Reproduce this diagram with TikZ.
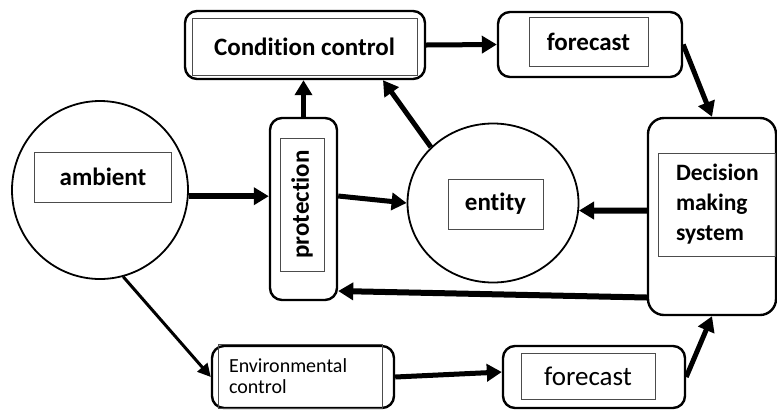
\documentclass[tikz,border=0pt]{standalone}
\usepackage{fontspec}
\setmainfont{Carlito}[Ligatures=NoCommon]
\usetikzlibrary{arrows.meta,shapes.geometric}

\begin{document}
\begin{tikzpicture}[x=1bp, y=-1bp,
  outer/.style={rectangle, draw, line width=2.4bp, rounded corners=12bp,
                inner sep=0pt},
  inner/.style={rectangle, draw=black!70, line width=1bp, inner sep=0pt,
                font=\fontsize{25bp}{29bp}\selectfont\bfseries},
  disc/.style={ellipse, draw, line width=1.8bp, inner sep=0pt},
  arr/.style={line width=5bp, -{Triangle[length=15bp,width=17bp]}},
  thinarr/.style={line width=3bp, -{Triangle[length=13bp,width=13bp]}}
]
  \useasboundingbox (0,0) rectangle (777,410);

  % Ambient
  \node[disc, minimum width=176bp, minimum height=178bp] (amb) at (100,190) {};
  \node[inner, minimum width=136bp, minimum height=50bp] (ambtxt) at (103,177) {ambient};

  % Top row
  \node[outer, minimum width=240bp, minimum height=68bp] (cond) at (305,45) {};
  \node[inner, minimum width=225bp, minimum height=57bp] (condtxt) at (304.5,46.5) {Condition control};
  \node[outer, minimum width=184bp, minimum height=65bp] (fcup) at (590,44.5) {};
  \node[inner, minimum width=119bp, minimum height=49bp] (fcuptxt) at (588.5,41.5) {forecast};

  % Protection
  \node[outer, minimum width=67bp, minimum height=182bp] (prot) at (303.5,209) {};
  \node[inner, rotate=90, minimum width=133bp, minimum height=44bp] (prottxt) at (302,204.5) {protection};

  % Entity
  \node[disc, minimum width=171bp, minimum height=159bp] (ent) at (493,203) {};
  \node[inner, minimum width=95bp, minimum height=50bp] (enttxt) at (495.5,204) {entity};

  % Decision making system
  \node[outer, rounded corners=16bp, minimum width=128bp, minimum height=197bp] (dec) at (712,216.5) {};
  \node[inner, minimum height=103bp, text width=81bp, inner xsep=18bp, align=left,
        font=\fontsize{23.5bp}{30bp}\selectfont\bfseries] (dectxt) at (716.5,204.5)
        {Decision\\making\\system};

  % Bottom row
  \node[outer, minimum width=182bp, minimum height=62bp] (env) at (303,377) {};
  \node[inner, minimum height=64bp, text width=142bp, inner xsep=11bp, align=left,
        font=\fontsize{20bp}{21bp}\selectfont] (envtxt) at (300,376)
        {Environmental\\control};
  \node[outer, minimum width=182bp, minimum height=62bp] (fcdown) at (594,377) {};
  \node[inner, minimum width=134bp, minimum height=46bp,
        font=\fontsize{27bp}{30bp}\selectfont] (fcdowntxt) at (588,376) {forecast};

  % Connections
  \draw[arr] (cond.east) -- (fcup.west);
  \draw[arr] (fcup.east) -- (dec.north);
  \draw[arr] (prot.north) -- (prot.north |- cond.south);
  \draw[arr] (ent.138) -- ([xshift=78bp]cond.south);
  \draw[arr, line width=6bp] (amb.-4) -- (amb.-4 -| prot.west);
  \draw[arr] ([yshift=13bp]prot.east) -- (ent.west);
  \draw[arr, line width=6bp] ([yshift=6bp]dec.west) -- (ent.-5);
  \draw[arr, line width=6bp] ([yshift=-81bp]dec.west) -- ([yshift=-82bp]prot.east);
  \draw[thinarr] (amb.-75) -- (env.west);
  \draw[arr] (env.east) -- ([yshift=5bp]fcdown.west);
  \draw[arr] (fcdown.east) -- (dec.south);
\end{tikzpicture}
\end{document}
